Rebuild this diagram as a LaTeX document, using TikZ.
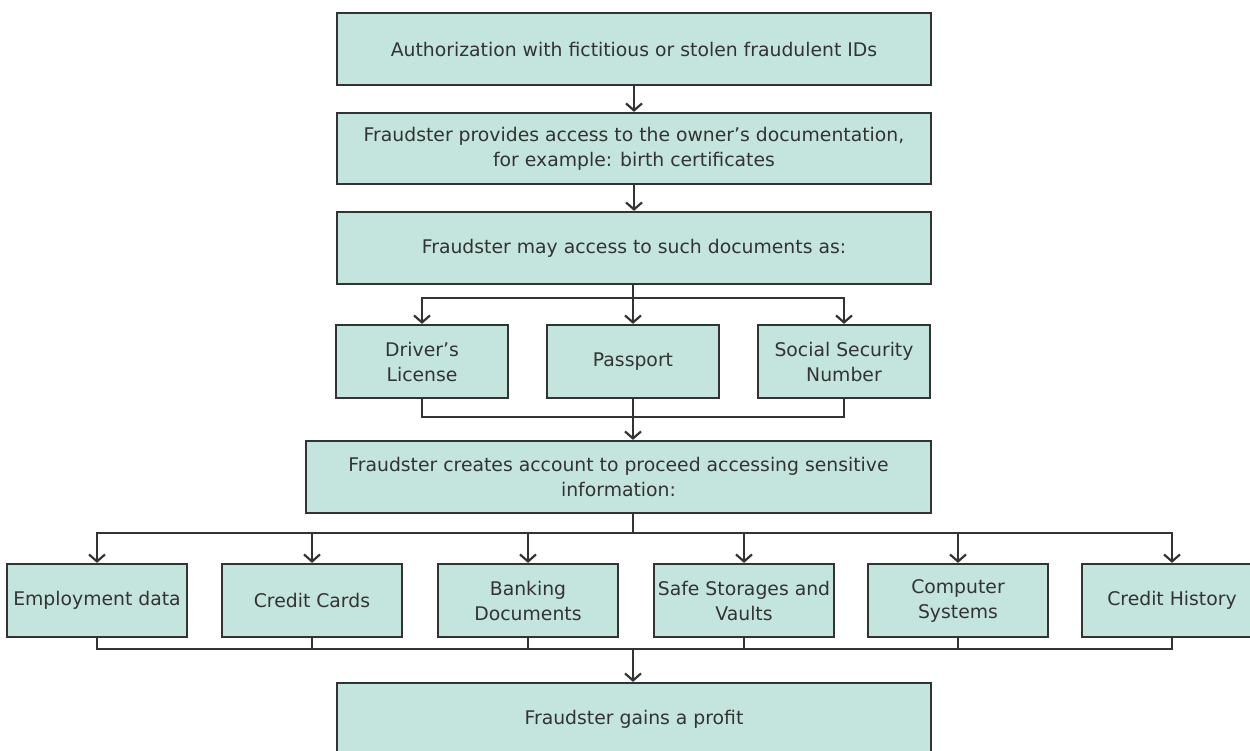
\documentclass[tikz,border=0pt]{standalone}
\usepackage{fontspec}
\setmainfont{DejaVu Sans}
\usepackage{xcolor}
\usetikzlibrary{arrows.meta,positioning,calc}
\definecolor{boxfill}{HTML}{C3E5DD}
\definecolor{boxline}{HTML}{333333}

\begin{document}
\begin{tikzpicture}[x = 1pt, y = -1pt,
  box/.style = {draw = boxline, fill = boxfill, line width = 2.2pt, align = center,
    inner sep = 0pt, text = boxline, font = \fontsize{18.8}{25}\selectfont},
  wide/.style = {box, minimum width = 594pt, minimum height = 72pt},
  doc/.style = {box, minimum width = 172pt, minimum height = 73pt},
  item/.style = {box, minimum width = 180pt, minimum height = 73pt},
  link/.style = {draw = boxline, line width = 2.2pt},
  arr/.style = {link, -{Straight Barb[length = 7pt, width = 16pt]}}]
  \clip (0,0) rectangle (1250,751);
  \node[wide] (auth) at (634,49) {Authorization with fictitious or stolen fraudulent IDs};
  \node[wide, minimum height = 71pt] (provides) at (634,148.5) {Fraudster provides access to the owner's documentation,\\for example: birth certificates};
  \node[wide] (may) at (634,248) {Fraudster may access to such documents as:};
  \node[doc] (driver) at (422,361.5) {Driver’s\\License};
  \node[doc] (passport) at (633,361.5) {Passport};
  \node[doc] (ssn) at (844,361.5) {Social Security\\Number};
  \node[wide, minimum width = 625pt] (creates) at (618.5,477) {Fraudster creates account to proceed accessing sensitive\\information:};
  \node[item] (emp) at (97,600.5) {Employment data};
  \node[item] (cards) at (312,600.5) {Credit Cards};
  \node[item] (bank) at (528,600.5) {Banking\\Documents};
  \node[item] (safe) at (744,600.5) {Safe Storages and\\Vaults};
  \node[item] (comp) at (958,600.5) {Computer\\Systems};
  \node[item] (hist) at (1172,600.5) {Credit History};
  \node[wide] (profit) at (634,719) {Fraudster gains a profit};
  \coordinate (fork1) at (633,298);
  \coordinate (join1) at (633,417);
  \coordinate (fork2) at (633,533);
  \coordinate (join2) at (633,649);
  \draw[arr] (auth) -- (provides);
  \draw[arr] (provides) -- (may);
  \draw[link] (may.south -| fork1) -- (fork1);
  \draw[arr] (fork1) -| (driver);
  \draw[arr] (fork1) -- (passport);
  \draw[arr] (fork1) -| (ssn);
  \draw[link] (driver) |- (join1);
  \draw[link] (passport) -- (join1);
  \draw[link] (ssn) |- (join1);
  \draw[arr] (join1) -- (join1 |- creates.north);
  \draw[link] (creates.south -| fork2) -- (fork2);
  \draw[arr] (fork2) -| (emp);
  \draw[arr] (fork2) -| (cards);
  \draw[arr] (fork2) -| (bank);
  \draw[arr] (fork2) -| (safe);
  \draw[arr] (fork2) -| (comp);
  \draw[arr] (fork2) -| (hist);
  \draw[link] (emp) |- (join2);
  \draw[link] (cards) |- (join2);
  \draw[link] (bank) |- (join2);
  \draw[link] (safe) |- (join2);
  \draw[link] (comp) |- (join2);
  \draw[link] (hist) |- (join2);
  \draw[arr] (join2) -- (join2 |- profit.north);
\end{tikzpicture}
\end{document}
